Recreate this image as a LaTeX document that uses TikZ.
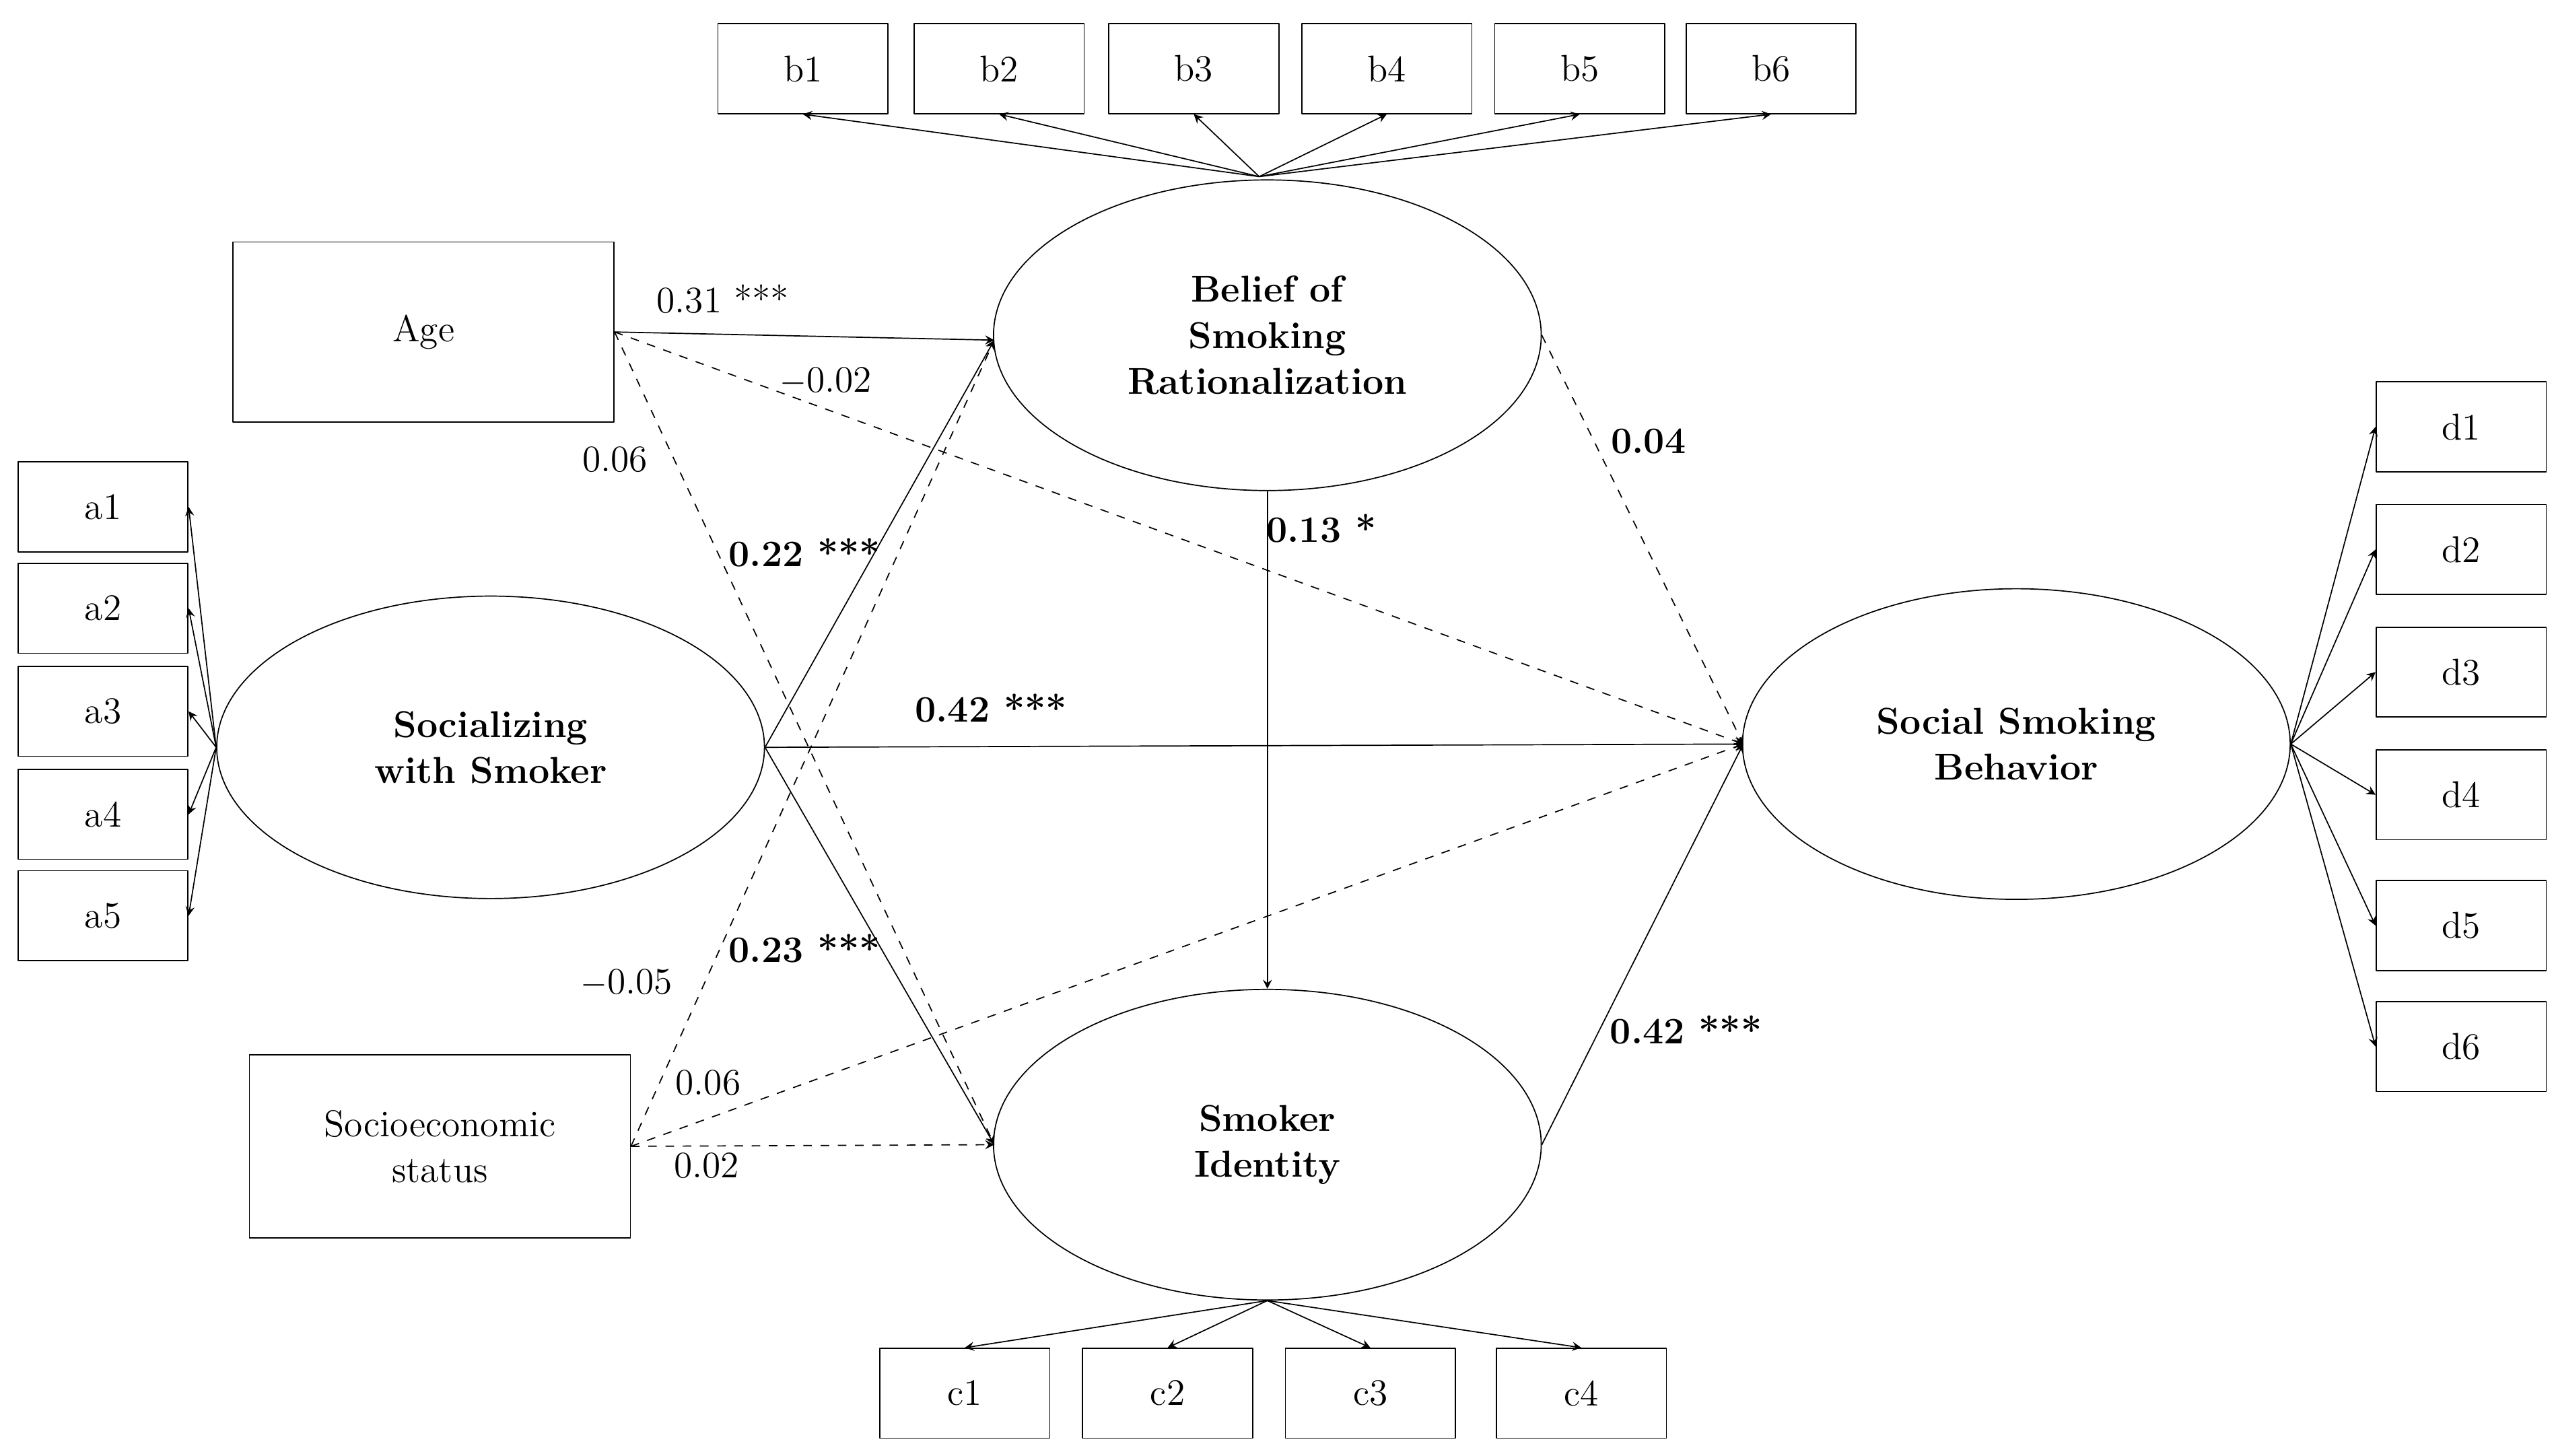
\documentclass[tikz,border=0pt]{standalone}
\usetikzlibrary{shapes.geometric,arrows}
\begin{document}
\begin{tikzpicture}[x=0.02cm,y=-0.02cm,>=stealth,line join=round,
  font=\fontsize{13}{16}\selectfont,
  ind/.style={draw,minimum width=2.08cm,minimum height=1.1cm,inner sep=0pt},
  lat/.style={draw,ellipse,minimum width=6.7cm,minimum height=3.8cm,align=center,font=\fontsize{13}{16}\selectfont\bfseries},
  path/.style={->},
  dpath/.style={->,dashed},
  lbl/.style={inner sep=1pt}]
\useasboundingbox (0,0) rectangle (1563,890);
% latent variables
\node[lat] (bel) at (775,205) {Belief of\\Smoking\\Rationalization};
\node[lat,minimum width=6.7cm,minimum height=3.7cm] (soc) at (300,457) {Socializing\\with Smoker};
\node[lat] (ssb) at (1233,455) {Social Smoking\\Behavior};
\node[lat] (sid) at (775,700) {Smoker\\Identity};
% covariates
\node[draw,minimum width=4.66cm,minimum height=2.2cm] (age) at (259,203) {Age};
\node[draw,minimum width=4.66cm,minimum height=2.24cm,align=center] (ses) at (269,701) {Socioeconomic\\status};
% indicators
\foreach \i/\x in {1/491,2/611,3/730,4/848,5/966,6/1083}
  {\node[ind] (b\i) at (\x,42) {b\i};
   \draw[path] (770,108) -- (b\i.south);}
\foreach \i/\y in {1/310,2/372,3/435,4/498,5/560}
  {\node[ind] (a\i) at (63,\y) {a\i};
   \draw[path] (soc.west) -- (a\i.east);}
\foreach \i/\x in {1/590,2/714,3/838,4/967}
  {\node[ind] (c\i) at (\x,852) {c\i};
   \draw[path] (sid.south) -- (c\i.north);}
\foreach \i/\y in {1/261,2/336,3/411,4/486,5/566,6/640}
  {\node[ind] (d\i) at (1505,\y) {d\i};
   \draw[path] (ssb.east) -- (d\i.west);}
% structural paths
\coordinate (belin) at (608,208);
\coordinate (sidin) at (608,700);
\coordinate (ssbin) at (1066,455);
\draw[path] (age.east) -- (belin);
\draw[dpath] (age.east) -- (ssbin);
\draw[dpath] (age.east) -- (sidin);
\draw[path] (soc.east) -- (belin);
\draw[path] (soc.east) -- (ssbin);
\draw[path] (soc.east) -- (sidin);
\draw[dpath] (ses.east) -- (belin);
\draw[dpath] (ses.east) -- (ssbin);
\draw[dpath] (ses.east) -- (sidin);
\draw[path] (bel.south) -- (sid.north);
\draw[dpath] (bel.east) -- (ssbin);
\draw[path] (sid.east) -- (ssbin);
% coefficients
\node[lbl] at (442,183) {0.31 ***};
\node[lbl] at (505,233) {$-$0.02};
\node[lbl] at (376,281) {0.06};
\node[lbl,font=\fontsize{13}{16}\selectfont\bfseries] at (492,338) {0.22 ***};
\node[lbl,font=\fontsize{13}{16}\selectfont\bfseries] at (1008,270) {0.04};
\node[lbl,font=\fontsize{13}{16}\selectfont\bfseries] at (808,323) {0.13 *};
\node[lbl,font=\fontsize{13}{16}\selectfont\bfseries] at (606,433) {0.42 ***};
\node[lbl,font=\fontsize{13}{16}\selectfont\bfseries] at (492,580) {0.23 ***};
\node[lbl] at (383,601) {$-$0.05};
\node[lbl] at (433,662) {0.06};
\node[lbl] at (432,713) {0.02};
\node[lbl,font=\fontsize{13}{16}\selectfont\bfseries] at (1031,630) {0.42 ***};
\end{tikzpicture}
\end{document}
